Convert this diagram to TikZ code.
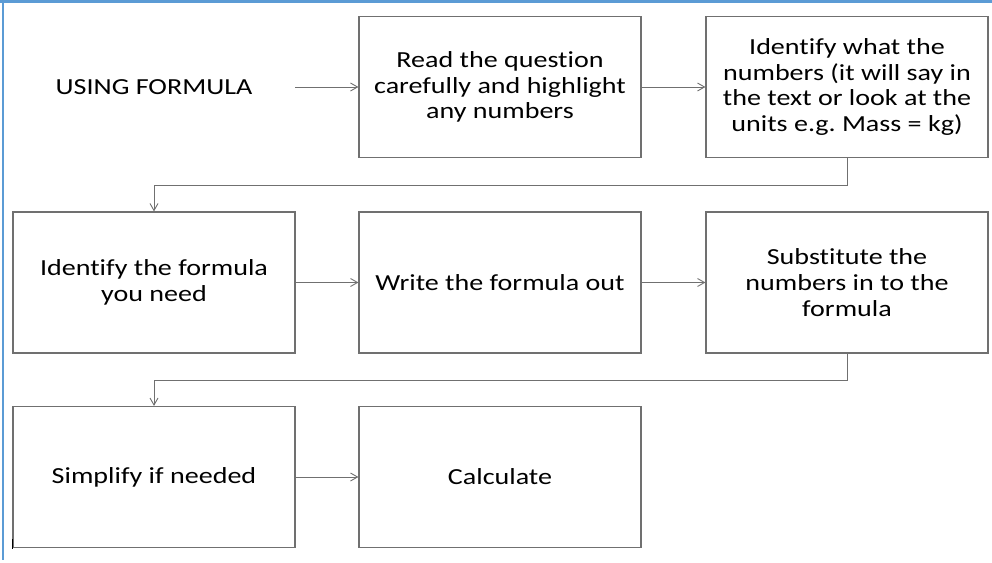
\documentclass[tikz,border=0pt]{standalone}
\usepackage{fontspec}
\setmainfont{Carlito}[FakeStretch=1.22,Ligatures={NoCommon}]
\usetikzlibrary{arrows.meta}
\definecolor{linegray}{RGB}{112,112,112}
\definecolor{frameblue}{RGB}{91,155,213}
\frenchspacing
\begin{document}
\begin{tikzpicture}[x=1pt,y=-1pt,
  box/.style={draw=linegray, line width=1.2pt, minimum width=282pt, minimum height=141pt,
    align=center, inner sep=0pt, font=\fontsize{23}{25.7}\selectfont},
  plain/.style={minimum width=282pt, minimum height=141pt, align=center, inner sep=0pt,
    font=\fontsize{23}{25.7}\selectfont},
  conn/.style={draw=linegray, line width=0.9pt, -{Straight Barb[length=7pt,width=8pt]}}]
\useasboundingbox (0,0) rectangle (992,562);
\fill[white] (0,0) rectangle (992,562);
% frame
\fill[frameblue] (0,0) rectangle (992,3.2);
\fill[frameblue] (1.6,0) rectangle (4.4,560);
% row 1
\node[plain] (start) at (154,87) {USING FORMULA};
\node[box] (read) at (500,87) {Read the question\\carefully and highlight\\any numbers};
\node[box] (ident) at (847,87) {Identify what the\\numbers (it will say in\\the text or look at the\\units e.g. Mass = kg)};
% row 2
\node[box] (formula) at (154,282.5) {Identify the formula\\you need};
\node[box] (write) at (500,282.5) {Write the formula out};
\node[box] (subst) at (847,282.5) {Substitute the\\numbers in to the\\formula};
% row 3
\node[box] (simp) at (154,477) {Simplify if needed};
\node[box] (calc) at (500,477) {Calculate};
% connectors
\draw[conn] (start.east) -- (read.west);
\draw[conn] (read.east) -- (ident.west);
\draw[conn] (ident.south) -- ++(0,27) -| (formula.north);
\draw[conn] (formula.east) -- (write.west);
\draw[conn] (write.east) -- (subst.west);
\draw[conn] (subst.south) -- ++(0,27) -| (simp.north);
\draw[conn] (simp.east) -- (calc.west);
% small tick mark
\coordinate (tickA) at (12.3,539);
\coordinate (tickB) at (12.3,549);
\draw[black, line width=1.6pt] (tickA) -- (tickB);
\end{tikzpicture}
\end{document}
